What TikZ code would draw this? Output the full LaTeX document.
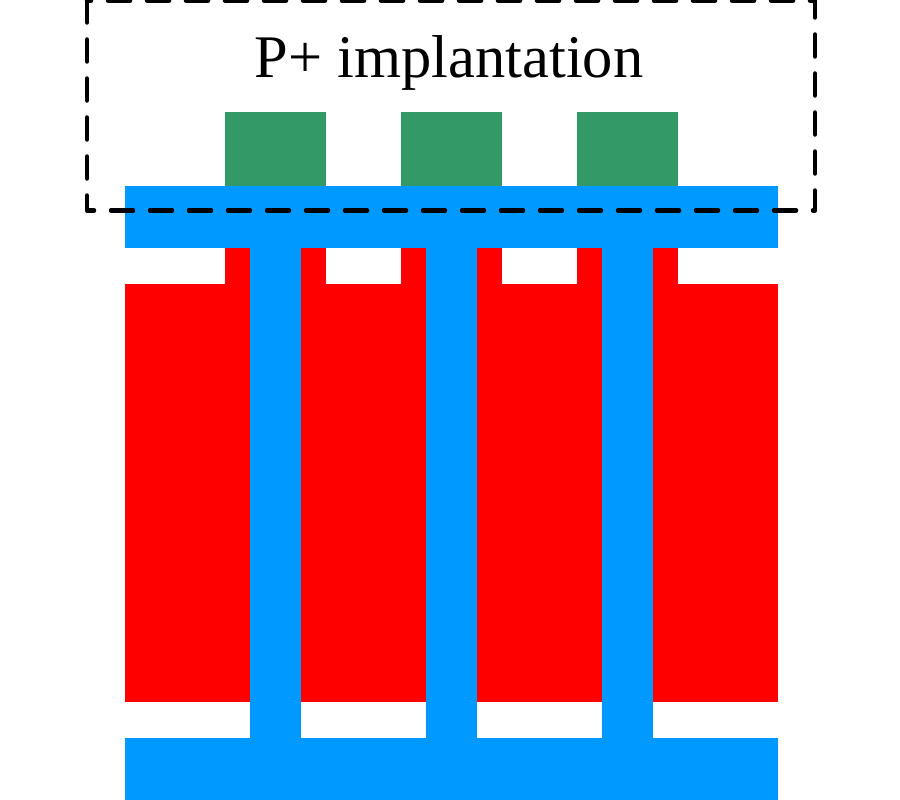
\documentclass[tikz,border=0pt]{standalone}
\usepackage{fontspec}
\setmainfont{Liberation Serif}
\usepackage{xcolor}
\usepackage{tikz}
\definecolor{polyblue}{RGB}{0,153,255}
\definecolor{maskgreen}{RGB}{51,153,102}

\begin{document}
\begin{tikzpicture}[x=1pt,y=-1pt]
  \useasboundingbox (0,0) rectangle (900,800);
  % red body with tabs
   \fill[red] (125,284) rectangle (778,702);
   \fill[red] (225,248) rectangle (326,284);
   \fill[red] (401,248) rectangle (502,284);
   \fill[red] (577,248) rectangle (678,284);
  % blue comb
   \fill[polyblue] (125,186) rectangle (778,248);
   \fill[polyblue] (125,738) rectangle (778,800);
   \fill[polyblue] (250,248) rectangle (301,738);
   \fill[polyblue] (426,248) rectangle (477,738);
   \fill[polyblue] (602,248) rectangle (653,738);
  % green masks
   \fill[maskgreen] (225,112) rectangle (326,186);
   \fill[maskgreen] (401,112) rectangle (502,186);
   \fill[maskgreen] (577,112) rectangle (678,186);
  % implant window
   \draw[line width=4.5pt, dash pattern=on 22pt off 17pt, line cap=round, line join=round] (87,0.5) rectangle (815,210.5);
   \node (implant) at (449,63) {\fontsize{60.5}{72}\selectfont P+ implantation};
\end{tikzpicture}
\end{document}
